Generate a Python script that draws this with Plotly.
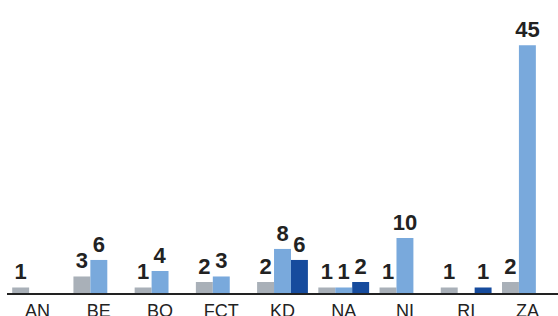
import plotly.graph_objects as go

categories = ["AN", "BE", "BO", "FCT", "KD", "NA", "NI", "RI", "ZA"]
series_gray = [1, 3, 1, 2, 2, 1, 1, 1, 2]
series_light = [None, 6, 4, 3, 8, 1, 10, None, 45]
series_dark = [None, None, None, None, 6, 2, None, 1, None]

colors = ["#a9b0b8", "#79a9dc", "#164b9d"]

fig = go.Figure()
for vals, col, name in zip([series_gray, series_light, series_dark], colors, ["A", "B", "C"]):
    fig.add_trace(go.Bar(
        x=categories, y=vals, name=name, marker_color=col, marker_line_width=0,
        text=[("" if v is None else str(v)) for v in vals],
        textposition="outside", cliponaxis=False, constraintext="none",
        textfont=dict(family="Liberation Sans, Arial, sans-serif", size=22, color="#222222"),
        texttemplate="<b>%{text}</b>",
    ))

fig.update_layout(
    width=558, height=316,
    margin=dict(l=7, r=0, t=0, b=23, autoexpand=False),
    barmode="group", bargap=0.17, bargroupgap=0,
    showlegend=False,
    plot_bgcolor="white", paper_bgcolor="white",
    font=dict(family="Liberation Sans, Arial, sans-serif", color="#222222"),
)
fig.update_xaxes(showline=True, linecolor="#222222", linewidth=2, ticks="",
                 automargin=False,
                 tickfont=dict(size=18, color="#222222"), showgrid=False)
fig.update_yaxes(visible=False, range=[0, 53.2], showgrid=False, zeroline=False)

fig.write_html("out.html", config={"displayModeBar": False},
               post_script="document.body.style.margin='0';document.body.style.overflow='hidden';")
